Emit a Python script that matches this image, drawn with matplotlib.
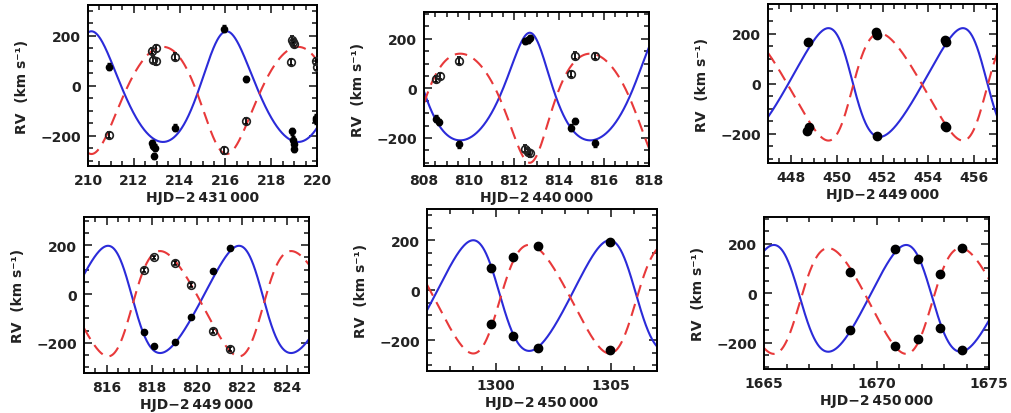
import numpy as np
import matplotlib.pyplot as plt
from matplotlib.ticker import MultipleLocator

plt.rcParams['font.family'] = ['DejaVu Sans']
plt.rcParams['font.weight'] = 'bold'

# axis texts and ranges
xlabels = ["HJD\u22122\u2009431\u2009000", "HJD\u22122\u2009440\u2009000", "HJD\u22122\u2009449\u2009000",
           "HJD\u22122\u2009449\u2009000", "HJD\u22122\u2009450\u2009000", "HJD\u22122\u2009450\u2009000"]
xlims = [(210, 220), (808, 818), (447, 457), (815, 825), (1297, 1307), (1665, 1675)]

# orbit solutions: period, time of blue maximum, e, omega, gamma, K_blue, K_red
period = [5.90, 5.78, 5.87, 5.82, 5.93, 5.88]
t_max = [216.05, 812.70, 449.64, 821.89, 1304.94, 1671.32]
ecc = [0.135, 0.207, 0.194, 0.167, 0.145, 0.143]
omega = [340, 15, 78, 76, 77, 80]
gamma = [-31, -36, -3.5, -31, -29, -26.5]
k_blue = [221, 217, 218, 220, 221, 216]
k_red = [214, 220, 215, 216, 217, 214]

# measured velocities: blue component (filled) and red component
p1_blue_t = [210.9, 212.78, 212.85, 212.92, 212.90, 213.8, 215.93, 216.9, 218.93, 218.96, 218.99, 219.01, 219.94, 219.97]
p1_blue_v = [77, -229, -240, -247, -280, -167, 229, 27, -182, -215, -232, -252, -127, -138]
p1_red_t = [210.9, 212.8, 212.95, 212.85, 212.97, 213.8, 215.93, 216.9, 218.9, 218.95, 219.0, 218.88, 219.94, 219.98]
p1_red_v = [-197, 140, 150, 105, 98, 117, -258, -140, 185, 175, 168, 96, 100, 75]

p2_blue_t = [808.55, 808.68, 809.55, 812.5, 812.6, 812.7, 814.55, 814.7, 815.6]
p2_blue_v = [-122, -135, -226, 190, 196, 203, -158, -131, -222]
p2_red_t = [808.52, 808.7, 809.55, 812.5, 812.6, 812.7, 814.55, 814.7, 815.6]
p2_red_v = [38, 49, 112, -243, -255, -262, 58, 132, 130]

p3_blue_t = [448.76, 451.74, 454.73, 454.77]
p3_blue_v = [169, -207, 176, 169]
p3_red_t = [448.69, 448.80, 451.71, 451.77, 454.73, 454.78]
p3_red_v = [-189, -173, 207, 197, -169, -173]

p4_blue_t = [817.68, 818.09, 819.04, 819.76, 820.75, 821.48]
p4_blue_v = [-156, -214, -197, -95, 93, 190]
p4_red_t = [817.68, 818.09, 819.04, 819.76, 820.75, 821.48]
p4_red_v = [98, 150, 127, 37, -150, -224]

p5_blue_t = [1299.78, 1300.75, 1301.81, 1304.94]
p5_blue_v = [88, -185, -232, 192]
p5_red_t = [1299.78, 1300.75, 1301.81, 1304.94]
p5_red_v = [-136, 133, 175, -240]

p6_blue_t = [1668.83, 1670.83, 1671.83, 1672.80, 1673.80]
p6_blue_v = [-149, 177, 139, -141, -232]
p6_red_t = [1668.83, 1670.83, 1671.83, 1672.80, 1673.80]
p6_red_v = [85, -212, -185, 78, 184]

blue_t = [p1_blue_t, p2_blue_t, p3_blue_t, p4_blue_t, p5_blue_t, p6_blue_t]
blue_v = [p1_blue_v, p2_blue_v, p3_blue_v, p4_blue_v, p5_blue_v, p6_blue_v]
red_t = [p1_red_t, p2_red_t, p3_red_t, p4_red_t, p5_red_t, p6_red_t]
red_v = [p1_red_v, p2_red_v, p3_red_v, p4_red_v, p5_red_v, p6_red_v]
errs = [13, 13, 0, 8, 0, 0]
red_open = [True, True, False, True, False, False]

# axes boxes in pixels (left, top, right, bottom) and y ranges
boxes = [(88, 6, 317, 167), (424, 13, 649, 167), (768, 5, 997, 164),
         (84, 218, 309, 374), (427, 210, 657, 372), (764, 218, 989, 370)]
ylims = [(-320, 323), (-313, 308), (-317, 320), (-324, 316), (-323, 324), (-307, 308)]
xmajor = [2, 2, 2, 2, 5, 5]
xminor = [0.5, 0.5, 0.5, 0.5, 1, 1]


def kepler_shape(t, P, tm, e, w_deg):
    # normalised radial-velocity curve of an eccentric orbit, maximum at tm
    w = np.radians(w_deg)
    nu0 = -w
    E0 = 2 * np.arctan(np.sqrt((1 - e) / (1 + e)) * np.tan(nu0 / 2))
    M0 = E0 - e * np.sin(E0)
    T0 = tm - M0 / (2 * np.pi) * P
    M = 2 * np.pi * (t - T0) / P
    E = M.copy()
    for _ in range(30):
        E = E - (E - e * np.sin(E) - M) / (1 - e * np.cos(E))
    nu = 2 * np.arctan2(np.sqrt(1 + e) * np.sin(E / 2), np.sqrt(1 - e) * np.cos(E / 2))
    return np.cos(nu + w) + e * np.cos(w)


W, H = 1012, 414
fig = plt.figure(figsize=(W / 100, H / 100), dpi=100)

for i in range(6):
    l, tp, r, b = boxes[i]
    ax = fig.add_axes([l / W, 1 - b / H, (r - l) / W, (b - tp) / H])
    t = np.linspace(xlims[i][0], xlims[i][1], 600)
    shape = kepler_shape(t, period[i], t_max[i], ecc[i], omega[i])
    ax.plot(t, gamma[i] + k_blue[i] * shape, color='#2b2bd9', lw=1.5, zorder=2)
    ax.plot(t, gamma[i] - k_red[i] * shape, color='#e8393a', lw=1.5, ls=(0, (6, 3.5)), zorder=2)

    if errs[i] > 0:
        ax.errorbar(blue_t[i], blue_v[i], yerr=errs[i], fmt='o', ms=4.5, color='black',
                    ecolor='black', elinewidth=1.3, capsize=1.5, zorder=3)
    else:
        ax.plot(blue_t[i], blue_v[i], 'o', ms=6, color='black', zorder=3)
    if red_open[i]:
        ax.errorbar(red_t[i], red_v[i], yerr=errs[i], fmt='o', ms=5.5, mfc='none', mec='#222222',
                    mew=1.2, ecolor='black', elinewidth=1.3, capsize=1.5, zorder=3)
    else:
        ax.plot(red_t[i], red_v[i], 'o', ms=6, color='black', zorder=3)

    ax.set_xlim(xlims[i])
    ax.set_ylim(ylims[i])
    ax.xaxis.set_major_locator(MultipleLocator(xmajor[i]))
    ax.xaxis.set_minor_locator(MultipleLocator(xminor[i]))
    ax.yaxis.set_major_locator(MultipleLocator(200))
    ax.yaxis.set_minor_locator(MultipleLocator(50))
    ax.tick_params(which='both', direction='in', top=True, right=True, width=1.2,
                   labelsize=10, colors='#222222', pad=5)
    ax.tick_params(which='major', length=6)
    ax.tick_params(which='minor', length=3.5)
    for s in ax.spines.values():
        s.set_linewidth(1.4)
    ax.set_xlabel(xlabels[i], fontsize=10, fontweight='bold', color='#222222', labelpad=2)
    ax.set_ylabel("RV  (km s\u207b\u00b9)", fontsize=10, fontweight='bold', color='#222222', labelpad=8)

fig.savefig('out.png', dpi=100)
